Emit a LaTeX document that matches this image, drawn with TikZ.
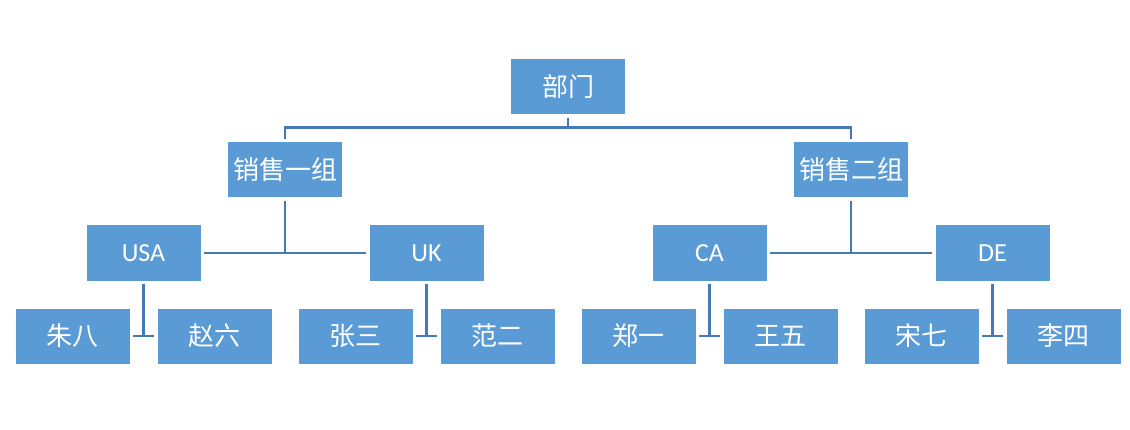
\documentclass[tikz,border=0pt]{standalone}
\usepackage{fontspec}
\usepackage{xcolor}
\setmainfont{Noto Sans CJK SC}
\newfontfamily\lat{Carlito}
\definecolor{boxblue}{RGB}{91,155,213}
\definecolor{lineblue}{RGB}{70,122,182}

\begin{document}
\begin{tikzpicture}[x=1pt,y=1pt,level distance=83pt]
    \tikzstyle{orgbox}=[rectangle,fill=boxblue,text=white,minimum width=114pt,minimum height=55pt,inner sep=0pt,font=\fontsize{26}{26}\selectfont]
    \tikzstyle{every node}=[orgbox]
    \tikzstyle{edge from parent}=[draw,lineblue,line width=2.8pt,shorten <=3pt,shorten >=3pt]
    \tikzstyle{level 1}=[sibling distance=566pt,shorten >=1pt,
        edge from parent path={(\tikzparentnode.south) |- ([yshift=15pt]\tikzchildnode.north) -- (\tikzchildnode.north)}]
    \tikzstyle{level 2}=[sibling distance=283pt,shorten >=3pt,
        edge from parent path={(\tikzparentnode) |- (\tikzchildnode)}]
    \tikzstyle{level 3}=[sibling distance=142pt]
    \useasboundingbox (0,0) rectangle (1130,429);
    \node (dept) at (568,342) {部门}
        child {node (g1) {销售一组}
            child {node (usa) {\lat USA}
                child {node (zhuba) {朱八}}
                child {node (zhaoliu) {赵六}}
            }
            child {node (uk) {\lat UK}
                child {node (zhangsan) {张三}}
                child {node (faner) {范二}}
            }
        }
        child {node (g2) {销售二组}
            child {node (ca) {\lat CA}
                child {node (zhengyi) {郑一}}
                child {node (wangwu) {王五}}
            }
            child {node (de) {\lat DE}
                child {node (songqi) {宋七}}
                child {node (lisi) {李四}}
            }
        };
\end{tikzpicture}
\end{document}
